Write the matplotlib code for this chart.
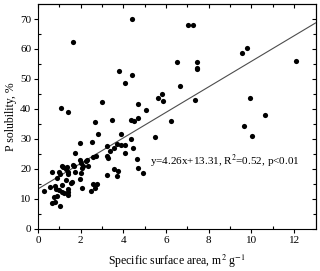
import numpy as np
import matplotlib.pyplot as plt

# specific surface area (m2 g-1) and P solubility (%)
ssa = [0.27, 0.63, 0.58, 0.79, 0.74, 0.66, 0.79, 1.02, 0.89, 0.99,
       0.86, 1.10, 0.97, 1.02, 0.88, 1.10, 1.29, 1.34, 1.18, 1.12,
       1.22, 1.29, 1.38, 1.40, 1.40, 1.41, 1.38, 1.55, 1.60, 1.62,
       1.68, 1.74, 1.74, 1.95, 1.96, 2.01, 2.06, 2.01, 1.96, 2.07,
       2.09, 2.23, 2.31, 2.35, 2.51, 2.56, 2.70, 2.82, 2.48, 2.59,
       2.78, 2.67, 3.22, 3.22, 3.26, 3.25, 3.37, 3.58, 3.58, 3.69,
       3.69, 3.76, 3.88, 3.88, 4.07, 4.08, 4.36, 4.47, 4.63, 4.66,
       4.91, 5.46, 1.62, 4.42, 3.78, 4.42, 4.08, 1.07, 1.41, 3.00,
       2.68, 3.47, 4.36, 4.50, 4.69, 4.68, 5.04, 5.60, 7.04, 7.25,
       6.49, 7.44, 7.44, 7.44, 6.67, 5.81, 5.84, 7.33, 6.23, 9.54,
       9.79, 12.09, 9.93, 10.61, 9.66, 10.04]
p_sol = [12.6, 18.8, 13.9, 14.1, 10.6, 8.6, 8.8, 7.5, 10.8, 13.0,
         13.4, 14.5, 18.8, 18.2, 16.9, 21.1, 20.1, 20.6, 20.6, 12.1,
         12.0, 16.2, 13.4, 12.4, 11.4, 18.2, 18.9, 15.3, 15.6, 21.2,
         20.9, 19.1, 25.3, 28.6, 23.1, 21.9, 20.3, 18.6, 16.7, 13.7,
         21.1, 22.5, 23.1, 20.8, 28.8, 23.9, 24.4, 31.5, 12.6, 15.0,
         15.0, 13.7, 27.5, 24.3, 23.7, 18.0, 26.0, 27.0, 20.1, 28.4,
         17.5, 19.2, 31.5, 28.0, 27.8, 25.3, 30.0, 26.8, 23.2, 20.4,
         18.7, 30.6, 62.2, 69.9, 52.5, 51.3, 48.5, 40.2, 39.0, 42.3,
         35.5, 36.4, 36.2, 36.0, 37.1, 41.8, 39.8, 43.5, 67.9, 67.9,
         55.6, 55.7, 53.7, 53.2, 47.8, 44.9, 42.6, 43.1, 35.8, 58.5,
         60.4, 56.0, 43.7, 37.8, 34.3, 31.1]

# regression reported on the chart
slope, intercept = 4.26, 13.31
fit_label = "y=4.26x+13.31, R$^2$=0.52, p<0.01"

plt.rcParams['font.family'] = ['Liberation Serif', 'DejaVu Serif']
plt.rcParams['mathtext.fontset'] = 'stix'

fig = plt.figure(figsize=(3.2, 2.71), dpi=100)
ax = fig.add_axes([0.119, 0.156, 0.867, 0.829])

ax.scatter(ssa, p_sol, s=14, color='black', linewidths=0, zorder=3)

xfit = np.array([0, 13])
ax.plot(xfit, np.polyval([slope, intercept], xfit), color='0.3', lw=0.8)

ax.text(5.25, 22.3, fit_label, fontsize=8, va='center', ha='left')

ax.set_xlim(0, 13)
ax.set_ylim(0, 75)
ax.set_xticks(np.arange(0, 13, 2))
ax.set_xticks(np.arange(1, 13, 2), minor=True)
ax.set_yticks(np.arange(0, 71, 10))
ax.set_yticks(np.arange(5, 75, 10), minor=True)

ax.tick_params(which='major', direction='out', length=3, width=0.8,
               labelsize=8, pad=2)
ax.tick_params(which='minor', direction='in', length=2, width=0.8)

# top and right ticks point inwards
top = ax.secondary_xaxis('top')
top.set_xticks(np.arange(0, 13, 2))
top.set_xticks(np.arange(1, 13, 2), minor=True)
top.tick_params(which='both', direction='in', labeltop=False, width=0.8)
top.tick_params(which='major', length=3)
top.tick_params(which='minor', length=2)
right = ax.secondary_yaxis('right')
right.set_yticks(np.arange(0, 71, 10))
right.set_yticks(np.arange(5, 75, 10), minor=True)
right.tick_params(which='both', direction='in', labelright=False, width=0.8)
right.tick_params(which='major', length=3)
right.tick_params(which='minor', length=2)

for sp in ax.spines.values():
    sp.set_linewidth(0.8)

ax.set_xlabel("Specific surface area, m$^2$ g$^{-1}$", fontsize=8.5, labelpad=6)
ax.set_ylabel("P solubility, %", fontsize=8.5, labelpad=2)

fig.savefig("out.png", dpi=100)
